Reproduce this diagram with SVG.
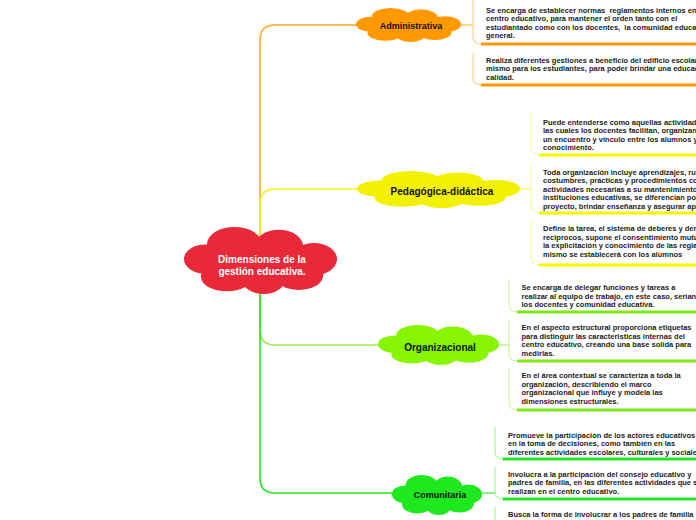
<svg xmlns="http://www.w3.org/2000/svg" xmlns:xlink="http://www.w3.org/1999/xlink" width="696" height="520" viewBox="0 0 696 520">
<style>
.t{font-family:"Liberation Sans",Arial,sans-serif;font-weight:bold;font-size:7.5px;fill:#222;white-space:pre}
.n{font-family:"Liberation Sans",Arial,sans-serif;font-weight:bold;fill:#111;text-anchor:middle}
.c{fill:none;stroke-width:1.6;stroke-linecap:round}
.b{fill:none;stroke-width:1}
.u{fill:none;stroke-width:3}
</style>
<defs>
<symbol id="cloud" viewBox="0 0 100 50" preserveAspectRatio="none">
<ellipse cx="33" cy="13" rx="18" ry="13"/>
<ellipse cx="62" cy="15" rx="16" ry="13"/>
<ellipse cx="14" cy="24" rx="14" ry="11"/>
<ellipse cx="85" cy="24" rx="15" ry="12"/>
<ellipse cx="28" cy="37" rx="17" ry="11"/>
<ellipse cx="52" cy="39" rx="14" ry="11"/>
<ellipse cx="75" cy="36" rx="16" ry="11"/>
<ellipse cx="50" cy="25" rx="38" ry="16"/>
</symbol>
</defs>
<rect width="696" height="520" fill="#fff"/>
<g id="connectors">
<path class="c" stroke="#ffa726" d="M260,260 V40 Q260,25 275,25 H360"/>
<path class="c" stroke="#f4f41a" d="M260,260 V204 Q260,189 275,189 H360"/>
<path class="c" stroke="#9cf046" d="M260,260 V330 Q260,345 275,345 H380"/>
<path class="c" stroke="#22e622" d="M260,260 V478 Q260,493 275,493 H394"/>
<path class="b" stroke="#ffa726" d="M458,25 H473"/>
<path class="b" stroke="#f4f41a" d="M518,189 H531"/>
<path class="b" stroke="#9cf046" d="M497,345 H509"/>
<path class="b" stroke="#22e622" d="M481,493 H495"/>
</g>
<g id="center">
<use xlink:href="#cloud" href="#cloud" x="184" y="227" width="153" height="67" fill="#e8293a"/>
<text class="n" font-size="10" style="fill:#fff" x="262" y="262.5">Dimensiones de la</text>
<text class="n" font-size="10" style="fill:#fff" x="262" y="274.5">gestión educativa.</text>
</g>
<g id="administrativa">
<use xlink:href="#cloud" href="#cloud" x="356" y="8" width="105" height="34" fill="#ff9900"/>
<text class="n" font-size="9" x="411" y="29">Administrativa</text>
</g>
<g id="admin-1">
<path class="b" stroke="#ffc670" d="M473,0 V36 Q473,44 481,44"/>
<path class="u" stroke="#ff9900" d="M481,44 H700"/>
<text class="t" x="486" y="12.5">Se encarga de establecer normas  reglamentos internos en</text>
<text class="t" x="486" y="21">centro educativo, para mantener el orden tanto con el</text>
<text class="t" x="486" y="29.5">estudiantado como con los docentes,  la comunidad educa</text>
<text class="t" x="486" y="38">general.</text>
</g>
<g id="admin-2">
<path class="b" stroke="#ffc670" d="M473,53 V77 Q473,85 481,85"/>
<path class="u" stroke="#ff9900" d="M481,85 H700"/>
<text class="t" x="486" y="62.5">Realiza diferentes gestiones a beneficio del edificio escolar</text>
<text class="t" x="486" y="71">mismo para los estudiantes, para poder brindar una educac</text>
<text class="t" x="486" y="79.5">calidad.</text>
</g>
<g id="pedagogica">
<use xlink:href="#cloud" href="#cloud" x="357" y="171" width="163" height="37" fill="#f2f200"/>
<text class="n" font-size="10" x="442" y="194.5">Pedagógica-didáctica</text>
</g>
<g id="ped-1">
<path class="b" stroke="#f7f78a" d="M531,113 V147 Q531,155 539,155"/>
<path class="u" stroke="#f6f600" d="M539,155 H700"/>
<text class="t" x="543" y="124.5">Puede entenderse como aquellas actividad</text>
<text class="t" x="543" y="133">las cuales los docentes facilitan, organizan</text>
<text class="t" x="543" y="141.5">un encuentro y vinculo entre los alumnos y</text>
<text class="t" x="543" y="150">conocimiento.</text>
</g>
<g id="ped-2">
<path class="b" stroke="#f7f78a" d="M531,164 V205 Q531,213 539,213"/>
<path class="u" stroke="#f6f600" d="M539,213 H700"/>
<text class="t" x="543" y="174.5">Toda organización incluye aprendizajes, ru</text>
<text class="t" x="543" y="183">costumbres, prácticas y procedimientos co</text>
<text class="t" x="543" y="191.5">actividades necesarias a su mantenimiento</text>
<text class="t" x="543" y="200">instituciones educativas, se diferencian po</text>
<text class="t" x="543" y="208.5">proyecto, brindar enseñanza y asegurar ap</text>
</g>
<g id="ped-3">
<path class="b" stroke="#f7f78a" d="M531,221 V257 Q531,265 539,265"/>
<path class="u" stroke="#f6f600" d="M539,265 H700"/>
<text class="t" x="543" y="231">Define la tarea, el sistema de deberes y der</text>
<text class="t" x="543" y="239.5">reciprocos, supone el consentimiento mutu</text>
<text class="t" x="543" y="248">la explicitación y conocimiento de las regla</text>
<text class="t" x="543" y="256.5">mismo se establecerá con los alumnos</text>
</g>
<g id="organizacional">
<use xlink:href="#cloud" href="#cloud" x="378" y="325" width="121" height="40" fill="#88f500"/>
<text class="n" font-size="10" x="440" y="350.5">Organizacional</text>
</g>
<g id="org-1">
<path class="b" stroke="#bff584" d="M509,279 V304 Q509,312 517,312"/>
<path class="u" stroke="#7ee818" d="M517,312 H700"/>
<text class="t" x="521.5" y="290">Se encarga de delegar funciones y tareas a</text>
<text class="t" x="521.5" y="298.5">realizar al equipo de trabajo, en este caso, serian</text>
<text class="t" x="521.5" y="307">los docentes y comunidad educativa.</text>
</g>
<g id="org-2">
<path class="b" stroke="#bff584" d="M509,319 V353 Q509,361 517,361"/>
<path class="u" stroke="#7ee818" d="M517,361 H700"/>
<text class="t" x="521.5" y="330">En el aspecto estructural proporciona etiquetas</text>
<text class="t" x="521.5" y="338.5">para distinguir las caracteristicas internas del</text>
<text class="t" x="521.5" y="347">centro educativo, creando una base solida para</text>
<text class="t" x="521.5" y="355.5">medirlas.</text>
</g>
<g id="org-3">
<path class="b" stroke="#bff584" d="M509,368 V402 Q509,410 517,410"/>
<path class="u" stroke="#7ee818" d="M517,410 H700"/>
<text class="t" x="521.5" y="378">En el área contextual se caracteriza a toda la</text>
<text class="t" x="521.5" y="386.5">organización, describiendo el marco</text>
<text class="t" x="521.5" y="395">organizacional que influye y modela las</text>
<text class="t" x="521.5" y="403.5">dimensiones estructurales.</text>
</g>
<g id="comunitaria">
<use xlink:href="#cloud" href="#cloud" x="392" y="475" width="90" height="40" fill="#1ee81e"/>
<text class="n" font-size="9" x="440" y="498">Comunitaria</text>
</g>
<g id="com-1">
<path class="b" stroke="#8af58a" d="M495,427 V451 Q495,459 503,459"/>
<path class="u" stroke="#22e622" d="M503,459 H700"/>
<text class="t" x="508" y="437.5">Promueve la participación de los actores educativos</text>
<text class="t" x="508" y="446">en la toma de decisiones, como también en las</text>
<text class="t" x="508" y="454.5">diferentes actividades escolares, culturales y sociale</text>
</g>
<g id="com-2">
<path class="b" stroke="#8af58a" d="M495,467 V491 Q495,499 503,499"/>
<path class="u" stroke="#22e622" d="M503,499 H700"/>
<text class="t" x="508" y="476.5">Involucra a la participación del consejo educativo y</text>
<text class="t" x="508" y="485">padres de familia, en las diferentes actividades que s</text>
<text class="t" x="508" y="493.5">realizan en el centro educativo.</text>
</g>
<g id="com-3">
<path class="b" stroke="#8af58a" d="M495,507 V531 Q495,539 503,539"/>
<text class="t" x="508" y="516.5">Busca la forma de involucrar a los padres de familia</text>
</g>
</svg>
